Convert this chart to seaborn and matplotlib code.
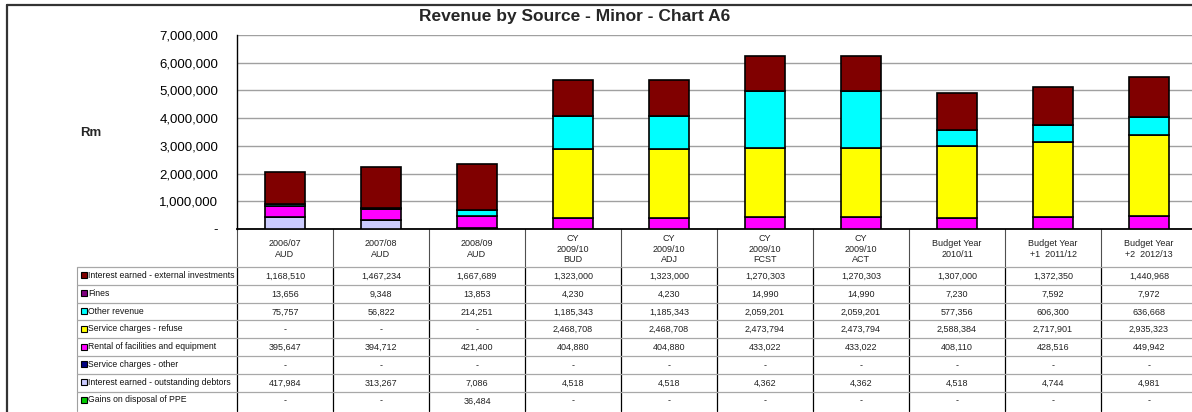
import numpy as np
import pandas as pd
import matplotlib
matplotlib.use("Agg")
import matplotlib.pyplot as plt
import seaborn as sns
from matplotlib.ticker import FuncFormatter
from matplotlib.patches import Rectangle

# ---- data ----
periods = ["2006/07\nAUD", "2007/08\nAUD", "2008/09\nAUD",
           "CY\n2009/10\nBUD", "CY\n2009/10\nADJ", "CY\n2009/10\nFCST",
           "CY\n2009/10\nACT", "Budget Year\n2010/11",
           "Budget Year\n+1  2011/12", "Budget Year\n+2  2012/13"]

interest_external = [1168510, 1467234, 1667689, 1323000, 1323000,
                     1270303, 1270303, 1307000, 1372350, 1440968]
fines = [13656, 9348, 13853, 4230, 4230, 14990, 14990, 7230, 7592, 7972]
other_revenue = [75757, 56822, 214251, 1185343, 1185343,
                 2059201, 2059201, 577356, 606300, 636668]
refuse = [0, 0, 0, 2468708, 2468708, 2473794, 2473794,
          2588384, 2717901, 2935323]
rental = [395647, 394712, 421400, 404880, 404880, 433022, 433022,
          408110, 428516, 449942]
service_other = [0, 0, 0, 0, 0, 0, 0, 0, 0, 0]
interest_debtors = [417984, 313267, 7086, 4518, 4518, 4362, 4362,
                    4518, 4744, 4981]
gains_ppe = [0, 0, 36484, 0, 0, 0, 0, 0, 0, 0]

# table order (top to bottom); bars are stacked in the reverse order
series = [
    ("Interest earned - external investments", interest_external, "#800000"),
    ("Fines", fines, "#800080"),
    ("Other revenue", other_revenue, "#00FFFF"),
    ("Service charges - refuse", refuse, "#FFFF00"),
    ("Rental of facilities and equipment", rental, "#FF00FF"),
    ("Service charges - other", service_other, "#000080"),
    ("Interest earned - outstanding debtors", interest_debtors, "#CCCCFF"),
    ("Gains on disposal of PPE", gains_ppe, "#00CC00"),
]

sns.set_theme(style="white")
plt.rcParams['font.family'] = ['Liberation Sans', 'DejaVu Sans']

W, H = 1192, 412
fig = plt.figure(figsize=(W / 100, H / 100), dpi=100)

# plot area in pixels
AX_L, AX_R, AX_T, AX_B = 237, 1197, 35, 229
ax = fig.add_axes([AX_L / W, 1 - AX_B / H, (AX_R - AX_L) / W, (AX_B - AX_T) / H])

bottom = np.zeros(len(periods))
for name, vals, col in series[::-1]:
    df = pd.DataFrame({"period": periods, "value": vals})
    sns.barplot(data=df, x="period", y="value", order=periods, bottom=bottom,
                color=col, saturation=1, edgecolor="black", linewidth=1.2,
                width=0.41, errorbar=None, ax=ax, zorder=3)
    bottom = bottom + np.array(vals, dtype=float)

ax.set_xlim(-0.5, len(periods) - 0.5)
ax.set_ylim(0, 7_000_000)
ax.set_yticks(np.arange(0, 7_000_001, 1_000_000))
ax.yaxis.set_major_formatter(FuncFormatter(lambda v, p: "-" if v == 0 else f"{v:,.0f}"))
ax.grid(axis="y", color="#a0a0a0", lw=1)
ax.set_axisbelow(True)
ax.set_xlabel("")
ax.set_ylabel("")
ax.tick_params(axis="x", labelbottom=False, length=0)
ax.tick_params(axis="y", length=0, labelsize=9.5, pad=13.5, colors="#000000")
for s in ["top", "right"]:
    ax.spines[s].set_visible(False)
ax.spines["left"].set_color("black")
ax.spines["left"].set_linewidth(1)
ax.spines["bottom"].set_color("black")
ax.spines["bottom"].set_linewidth(1.3)

# ---- data table drawn under the plot area ----
tab = fig.add_axes([0, 0, 1, 1], zorder=-1)
tab.set_xlim(0, W)
tab.set_ylim(H, 0)
tab.axis("off")

col_edges = [ax.transData.transform((i - 0.5, 0))[0] for i in range(len(periods) + 1)]
col_centers = [ax.transData.transform((i, 0))[0] for i in range(len(periods))]
HEAD_TOP, HEAD_BOT, ROW_H, LABEL_L = 229, 267, 17.8, 77
row_edges = [HEAD_BOT + ROW_H * k for k in range(len(series) + 1)]

for x in col_edges:
    tab.plot([x, x], [HEAD_TOP, HEAD_BOT], color="#505050", lw=0.8)
    tab.plot([x, x], [HEAD_BOT, row_edges[-1] + 2], color="black", lw=0.9)
tab.plot([LABEL_L, LABEL_L], [HEAD_BOT, row_edges[-1] + 2], color="#a0a0a0", lw=0.8)
for y in row_edges[:-1]:
    tab.plot([LABEL_L, W], [y, y], color="#a8a8a8", lw=0.9)

for xc, lab in zip(col_centers, periods):
    tab.text(xc, (HEAD_TOP + HEAD_BOT) / 2 + 1, lab, ha="center", va="center",
             fontsize=6.5, linespacing=1.15, color="#222222")

for r, (name, vals, col) in enumerate(series):
    yc = (row_edges[r] + row_edges[r + 1]) / 2
    tab.add_patch(Rectangle((80.5, yc - 3.5), 6, 6, facecolor=col,
                            edgecolor="black", lw=0.8))
    tab.text(88, yc - 0.5, name, ha="left", va="center", fontsize=6.2, color="#111111")
    for xc, v in zip(col_centers, vals):
        tab.text(xc, yc + 0.5, "-" if v == 0 else f"{v:,}", ha="center",
                 va="center", fontsize=6.5, color="#222222")

# outer frame, title and unit label
tab.plot([7, W], [5, 5], color="#333333", lw=1.6)
tab.plot([7, 7], [5, H], color="#333333", lw=1.6)
fig.text(575 / W, 1 - 16 / H, "Revenue by Source - Minor - Chart A6",
         ha="center", va="center", fontsize=12.5, fontweight="bold")
fig.text(80 / W, 1 - 133 / H, "Rm", ha="left", va="center",
         fontsize=9.5, fontweight="bold")

fig.savefig("out.png", dpi=100)
